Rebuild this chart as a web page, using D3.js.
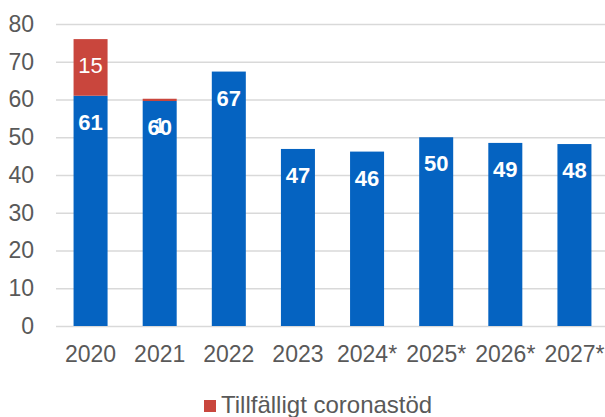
<!DOCTYPE html>
<html>
<head>
<meta charset="utf-8">
<script src="https://cdn.jsdelivr.net/npm/d3@7"></script>
<style>
  body { margin: 0; background: #fff; }
  svg { display: block; font-family: Arial, "Liberation Sans", sans-serif; }
</style>
</head>
<body>
<div id="chart-area"></div>
<script>
(() => {

  // data
  const years = ['2020', '2021', '2022', '2023', '2024*', '2025*', '2026*', '2027*'];
  const baseValues = [61, 59.6, 67.4, 46.9, 46.2, 50.0, 48.5, 48.2];
  const coronaValues = [15, 0.6, 0, 0, 0, 0, 0, 0];
  const yTicks = [0, 10, 20, 30, 40, 50, 60, 70, 80];
  const legendLabel = 'Tillfälligt coronastöd';

  const widthSvg = 605;
  const heightSvg = 417;
  const margin = { top: 24, left: 56, bottom: 91 };
  const plotRight = 609;
  const colorBase = '#0563C1';
  const colorCorona = '#C9463D';
  const textGrey = '#595959';

  const rows = years.map((y, i) => ({ year: y, base: baseValues[i], corona: coronaValues[i] }));
  const series = d3.stack().keys(['base', 'corona'])(rows);

  const scaleX = d3.scaleBand()
    .domain(years)
    .range([margin.left, plotRight])
    .paddingInner(0.508)
    .paddingOuter(0.254);

  const scaleY = d3.scaleLinear()
    .domain([0, 80])
    .range([heightSvg - margin.bottom, margin.top]);

  const svg = d3.select('#chart-area').append('svg')
    .attr('width', widthSvg)
    .attr('height', heightSvg);

  // gridlines + y labels
  const axisY = d3.axisLeft(scaleY)
    .tickValues(yTicks)
    .tickSize(-(plotRight - margin.left))
    .tickPadding(22);

  const gY = svg.append('g')
    .attr('transform', `translate(${margin.left}, 0)`)
    .call(axisY);
  gY.select('.domain').remove();
  gY.selectAll('line')
    .attr('stroke', '#D9D9D9')
    .attr('stroke-width', 1.5);
  gY.selectAll('text')
    .attr('fill', textGrey)
    .attr('font-size', '23px')
    .attr('font-family', 'Arial, "Liberation Sans", sans-serif');

  // x labels
  const axisX = d3.axisBottom(scaleX).tickSize(0).tickPadding(20);
  const gX = svg.append('g')
    .attr('transform', `translate(0, ${scaleY(0)})`)
    .call(axisX);
  gX.select('.domain').remove();
  gX.selectAll('text')
    .attr('fill', textGrey)
    .attr('font-size', '23px')
    .attr('font-family', 'Arial, "Liberation Sans", sans-serif');

  const colors = { base: colorBase, corona: colorCorona };

  const layers = svg.selectAll('g.layer')
    .data(series)
    .enter()
    .append('g')
      .attr('class', 'layer')
      .attr('fill', d => colors[d.key]);

  layers.selectAll('rect')
    .data(d => d.filter(p => p[1] - p[0] > 0))
    .enter()
    .append('rect')
      .attr('x', d => scaleX(d.data.year))
      .attr('y', d => scaleY(d[1]))
      .attr('width', scaleX.bandwidth())
      .attr('height', d => scaleY(d[0]) - scaleY(d[1]));

  // data labels, inside end (the 2021 "1" sits on the "60" as in the original)
  series.forEach(s => {
    svg.append('g')
      .selectAll('text')
      .data(s.filter(p => p[1] - p[0] > 0))
      .enter()
      .append('text')
        .attr('x', d => scaleX(d.data.year) + scaleX.bandwidth() / 2)
        .attr('y', d => scaleY(d[1]) + 34)
        .attr('text-anchor', 'middle')
        .attr('fill', '#fff')
        .attr('font-size', '22px')
        .attr('font-weight', s.key === 'base' ? 'bold' : 'normal')
        .text(d => Math.round(d[1] - d[0]));
  });

  // legend (only the corona series)
  const legend = svg.append('g')
    .attr('transform', 'translate(204, 400)');
  legend.append('rect')
    .attr('width', 12)
    .attr('height', 12)
    .attr('fill', colorCorona);
  legend.append('text')
    .attr('x', 17)
    .attr('y', 13)
    .attr('fill', textGrey)
    .attr('font-size', '24px')
    .text(legendLabel);

})();
</script>
</body>
</html>
